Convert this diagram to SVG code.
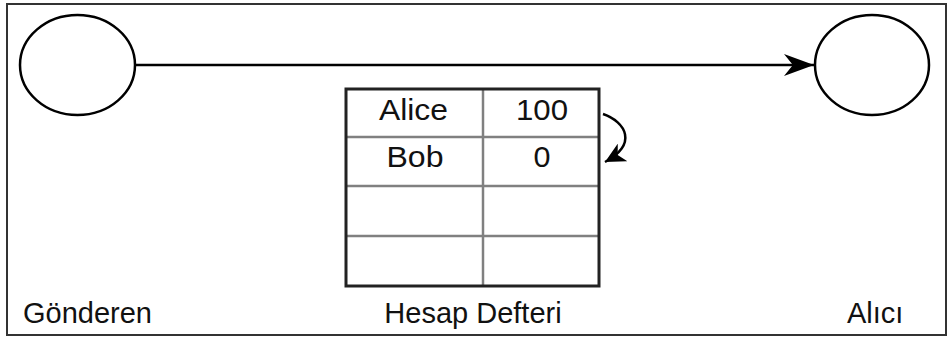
<svg xmlns="http://www.w3.org/2000/svg" width="948" height="338" viewBox="0 0 948 338">
  <defs>
    <style>
      .frame { fill: none; stroke: #333; stroke-width: 2; }
      .node { fill: #fff; stroke: #000; stroke-width: 2.5; }
      .edge { fill: none; stroke: #000; stroke-width: 2.5; }
      .grid { stroke: #808080; stroke-width: 2.5; }
      .outer { fill: none; stroke: #222; stroke-width: 3; }
      .cell { font-family: "Liberation Sans", Arial, sans-serif; font-size: 29.5px; fill: #111; text-anchor: middle; }
      .label { font-family: "Liberation Sans", Arial, sans-serif; font-size: 29px; fill: #111; }
    </style>
    <marker id="arrow-main" markerUnits="userSpaceOnUse" markerWidth="30" markerHeight="24" viewBox="0 0 27 20" refX="27" refY="10" orient="auto">
      <path d="M0 0 L27 10 L0 20 L8 10 Z" fill="#000"/>
    </marker>
    <marker id="arrow-small" markerUnits="userSpaceOnUse" markerWidth="20" markerHeight="20" viewBox="0 0 18 18" refX="18" refY="9" orient="auto">
      <path d="M0 0 L18 9 L0 18 L5 9 Z" fill="#000"/>
    </marker>
  </defs>

  <rect class="frame" x="7" y="4" width="939" height="331" fill="#fff"/>

  <g id="connectors">
    <line class="edge" x1="135" y1="65" x2="814" y2="65" marker-end="url(#arrow-main)"/>
    <path class="edge" d="M603 114 C626 122 638 144 605 162" marker-end="url(#arrow-small)"/>
  </g>

  <g id="sender">
    <ellipse class="node" cx="77.5" cy="65" rx="57.5" ry="50"/>
    <text class="label" x="23" y="323">Gönderen</text>
  </g>

  <g id="receiver">
    <ellipse class="node" cx="872" cy="65" rx="57" ry="50"/>
    <text class="label" x="847" y="323">Alıcı</text>
  </g>

  <g id="ledger">
    <rect x="346" y="89" width="253" height="197" fill="#fff"/>
    <line class="grid" x1="346" y1="137" x2="599" y2="137"/>
    <line class="grid" x1="346" y1="186" x2="599" y2="186"/>
    <line class="grid" x1="346" y1="236" x2="599" y2="236"/>
    <line class="grid" x1="483" y1="89" x2="483" y2="286"/>
    <rect class="outer" x="346" y="89" width="253" height="197"/>
    <text class="cell" x="413.5" y="120" textLength="69" lengthAdjust="spacingAndGlyphs">Alice</text>
    <text class="cell" x="542" y="120" textLength="52" lengthAdjust="spacingAndGlyphs">100</text>
    <text class="cell" x="415" y="167" textLength="57" lengthAdjust="spacingAndGlyphs">Bob</text>
    <text class="cell" x="542" y="167" textLength="17" lengthAdjust="spacingAndGlyphs">0</text>
    <text class="label" x="473" y="323" text-anchor="middle">Hesap Defteri</text>
  </g>
</svg>
